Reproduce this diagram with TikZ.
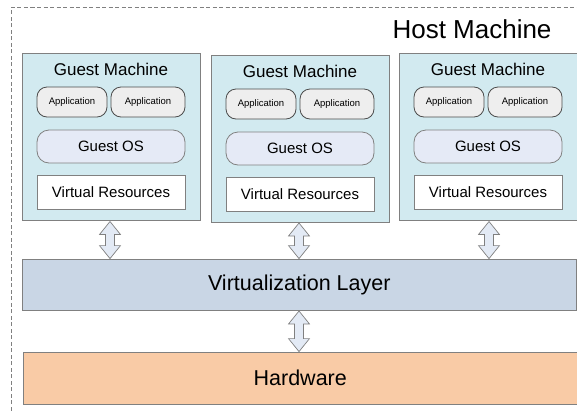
\documentclass[tikz,border=0pt]{standalone}
\usepackage{fontspec}
\setmainfont{Liberation Sans}
\usetikzlibrary{calc}
\definecolor{guestfill}{RGB}{210,234,240}
\definecolor{appfill}{RGB}{238,238,238}
\definecolor{osfill}{RGB}{229,234,246}
\definecolor{virtfill}{RGB}{201,214,229}
\definecolor{hwfill}{RGB}{249,203,166}
\definecolor{arrowfill}{RGB}{227,234,245}
\definecolor{edgegray}{RGB}{128,128,128}
\tikzset{
  base/.style={draw=edgegray, line width=0.8pt, inner sep=0pt, align=center, text=black},
  guestbox/.style={base, fill=guestfill, minimum width=178pt, minimum height=167pt},
  appbox/.style={base, draw=black!70, fill=appfill, rounded corners=10pt, minimum height=30pt, font=\fontsize{9.5}{11}\selectfont},
  osbox/.style={base, fill=osfill, rounded corners=12pt, minimum width=148pt, minimum height=33pt, font=\fontsize{15}{18}\selectfont},
  vrbox/.style={base, fill=white, minimum width=148pt, minimum height=34pt, font=\fontsize{15}{18}\selectfont},
  titletext/.style={inner sep=0pt, font=\fontsize{17}{20}\selectfont},
  layerbox/.style={base, minimum height=51pt, font=\fontsize{21.5}{25}\selectfont},
  blockarrow/.style={draw=edgegray, line width=0.7pt, fill=arrowfill,
    to path={let \p1=(\tikztostart), \p2=(\tikztotarget) in
      (\x1,\y1) -- (\x1+10.5pt,\y1-13pt) -- (\x1+4.5pt,\y1-13pt) -- (\x1+4.5pt,\y2+13pt)
      -- (\x1+10.5pt,\y2+13pt) -- (\x1,\y2) -- (\x1-10.5pt,\y2+13pt) -- (\x1-4.5pt,\y2+13pt)
      -- (\x1-4.5pt,\y1-13pt) -- (\x1-10.5pt,\y1-13pt) -- cycle}},
  hostborder/.style={draw=edgegray, line width=0.7pt, dash pattern=on 4pt off 2.5pt}
}
\begin{document}
\begin{tikzpicture}[x=1pt,y=-1pt]
\useasboundingbox (0,0) rectangle (577,410);
\clip (0,0) rectangle (577,410);
% host machine dashed frame
\draw[hostborder] (11.5,430) -- (11.5,7) -- (600,7);
\node[inner sep=0pt, font=\fontsize{26}{30}\selectfont] (host) at (472,29) {Host Machine};
% guest machine 1
\node[guestbox] (g1) at (111,136.5) {};
\node[titletext] (g1t) at (111,69) {Guest Machine};
\node[appbox, minimum width=70pt] (g1a1) at (72,102) {Application};
\node[appbox, minimum width=74pt] (g1a2) at (148,102) {Application};
\node[osbox] (g1os) at (111,146.5) {Guest OS};
\node[vrbox] (g1vr) at (111,192) {Virtual Resources};
% guest machine 2
\node[guestbox] (g2) at (300,138.5) {};
\node[titletext] (g2t) at (300,71) {Guest Machine};
\node[appbox, minimum width=70pt] (g2a1) at (261,104) {Application};
\node[appbox, minimum width=74pt] (g2a2) at (337,104) {Application};
\node[osbox] (g2os) at (300,148.5) {Guest OS};
\node[vrbox] (g2vr) at (300,194) {Virtual Resources};
% guest machine 3 (its right side runs off the picture)
\node[guestbox, minimum width=182pt] (g3) at (490,136.5) {};
\node[titletext] (g3t) at (488,69) {Guest Machine};
\node[appbox, minimum width=70pt] (g3a1) at (449,102) {Application};
\node[appbox, minimum width=74pt] (g3a2) at (525,102) {Application};
\node[osbox] (g3os) at (488,146.5) {Guest OS};
\node[vrbox] (g3vr) at (488,192) {Virtual Resources};
% layers
\node[layerbox, fill=virtfill, minimum width=553.5pt] (virt) at (299.25,284.5) {Virtualization Layer};
\node[layerbox, fill=hwfill, minimum width=553.5pt, minimum height=52pt] (hw) at (300.25,378) {Hardware};
% arrow end points
\coordinate (a1t) at (110,221.5);
\coordinate (a1b) at (a1t |- virt.north);
\coordinate (a2t) at (299,223);
\coordinate (a2b) at (a2t |- virt.north);
\coordinate (a3t) at (489,221.5);
\coordinate (a3b) at (a3t |- virt.north);
\coordinate (a4t) at (299,311);
\coordinate (a4b) at (a4t |- hw.north);
% arrows
\path[blockarrow] (a1t) to (a1b);
\path[blockarrow] (a2t) to (a2b);
\path[blockarrow] (a3t) to (a3b);
\path[blockarrow] (a4t) to (a4b);
\end{tikzpicture}
\end{document}
